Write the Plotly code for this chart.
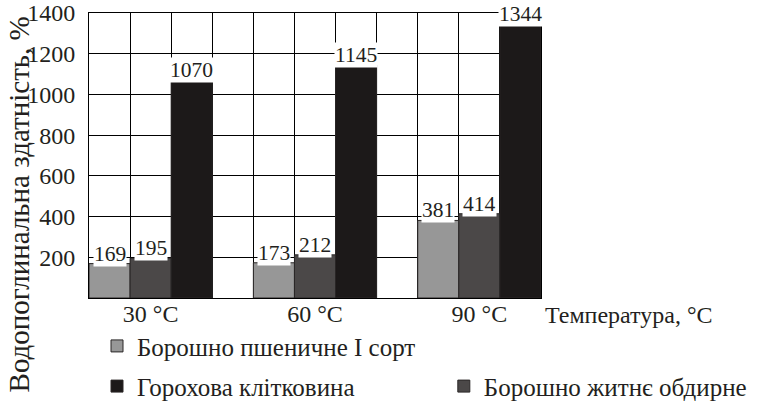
import plotly.graph_objects as go

temperatures = ["30 °C", "60 °C", "90 °C"]
series_names = ["Борошно пшеничне I сорт", "Борошно житнє обдирне", "Горохова клітковина"]
wheat_flour = [169, 173, 381]
rye_flour = [195, 212, 414]
pea_fiber = [1070, 1145, 1344]
y_ticks = [200, 400, 600, 800, 1000, 1200, 1400]

values = [wheat_flour, rye_flour, pea_fiber]
colors = ["#979797", "#4b4848", "#1c1919"]
legends = ["legend", "legend3", "legend2"]

FONT = "Liberation Serif, Times New Roman, Times, DejaVu Serif, serif"
TXT = "#231f20"

group_step = 4
centers = [group_step * i + 1.5 for i in range(len(temperatures))]

fig = go.Figure()
for j, (name, vals, col, lg) in enumerate(zip(series_names, values, colors, legends)):
    fig.add_trace(go.Bar(
        x=centers, y=vals, name=name, legend=lg,
        marker=dict(color=col, line=dict(color="#2a2727", width=1)),
        offsetgroup=str(j),
    ))

annotations = []
for j, vals in enumerate(values):
    for i, v in enumerate(vals):
        annotations.append(dict(
            x=centers[i] + (j - 1), y=v, xref="x", yref="y",
            text=str(v), showarrow=False, yanchor="bottom", yshift=-3,
            font=dict(family=FONT, size=21.5, color=TXT),
            bgcolor="white", borderpad=0,
        ))

annotations.append(dict(
    x=1.0044, y=-0.06, xref="paper", yref="paper", xanchor="left", yanchor="middle",
    text="Температура, °C", showarrow=False,
    font=dict(family=FONT, size=24, color=TXT),
))
annotations.append(dict(
    x=-0.156, y=0.33, xref="paper", yref="paper", xanchor="center", yanchor="middle",
    text="Водопоглинальна здатність, %", textangle=-90, showarrow=False,
    font=dict(family=FONT, size=29, color=TXT),
))

leg_common = dict(xanchor="left", yanchor="middle", orientation="h",
                  font=dict(family=FONT, size=25, color=TXT),
                  bgcolor="rgba(0,0,0,0)", borderwidth=0)

fig.update_layout(
    template="none",
    width=758, height=402,
    margin=dict(l=89, r=217, t=13, b=104, autoexpand=False),
    paper_bgcolor="white", plot_bgcolor="white",
    barmode="group", bargap=0.25, bargroupgap=0,
    font=dict(family=FONT, size=24, color=TXT),
    annotations=annotations,
    showlegend=True,
    legend=dict(x=0.0177, y=-0.169, **leg_common),
    legend2=dict(x=0.0177, y=-0.31, **leg_common),
    legend3=dict(x=0.785, y=-0.31, **leg_common),
)

fig.update_xaxes(
    range=[0, group_step * len(temperatures) - 1],
    tickmode="array", tickvals=centers, ticktext=temperatures,
    showgrid=False, zeroline=False, automargin=False,
    showline=True, linecolor="black", linewidth=1, mirror=True,
    ticks="", ticklen=0, ticklabelstandoff=-6, ticklabeloverflow="allow",
    tickfont=dict(family=FONT, size=24, color=TXT),
    minor=dict(tick0=0, dtick=1, showgrid=True, gridcolor="black", gridwidth=1, ticks=""),
)
fig.update_yaxes(
    range=[0, 1400],
    tickmode="array", tickvals=y_ticks,
    showgrid=True, gridcolor="black", gridwidth=1, zeroline=False, automargin=False,
    showline=True, linecolor="black", linewidth=1, mirror=True,
    ticks="", ticklabelstandoff=8, ticklabeloverflow="allow",
    tickfont=dict(family=FONT, size=24, color=TXT),
)

fig.write_html("out.html", config={"displayModeBar": False},
               post_script="document.body.style.margin='0px';")
